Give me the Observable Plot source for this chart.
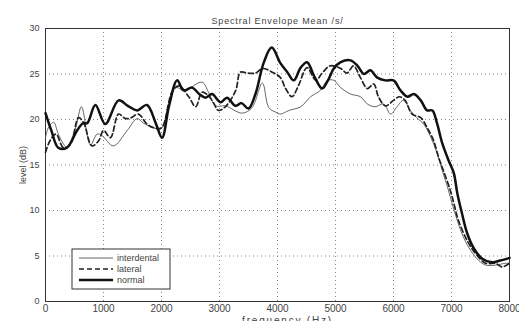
<!DOCTYPE html>
<html>
<head>
<meta charset="utf-8">
<script src="https://cdn.jsdelivr.net/npm/d3@7"></script>
<script src="https://cdn.jsdelivr.net/npm/@observablehq/plot@0.6"></script>
<style>
  html, body { margin: 0; padding: 0; background: #fff; }
  #chart { position: relative; width: 519px; height: 321px; }
  svg { font-family: "Liberation Sans", Arial, sans-serif; }
</style>
</head>
<body>
<div id="chart"></div>
<script>
const title = "Spectral Envelope Mean /s/";
const xLabel = "frequency (Hz)";
const yLabel = "level (dB)";
const seriesNames = ["interdental", "lateral", "normal"];
const xTicks = [0, 1000, 2000, 3000, 4000, 5000, 6000, 7000, 8000];
const yTicks = [0, 5, 10, 15, 20, 25, 30];

const interdentalFreq = [0, 50, 140, 220, 310, 370, 520, 620, 775, 890, 980, 1170, 1410, 1580, 1690, 1860, 2000, 2110, 2240, 2400, 2700, 2810, 2930, 3100, 3390, 3560, 3740, 3850, 3970, 4050, 4200, 4400, 4570, 4740, 4860, 4970, 5090, 5260, 5430, 5550, 5680, 5830, 5950, 6060, 6170, 6290, 6400, 6520, 6640, 6750, 6840, 6930, 7010, 7100, 7210, 7330, 7470, 7590, 7760, 7930, 8000];
const interdentalLevel = [18.0, 19.1, 19.7, 18.4, 17.3, 16.9, 19.1, 21.4, 17.2, 18.4, 18.2, 17.1, 18.8, 20.1, 19.6, 19.1, 19.0, 21.3, 23.5, 23.2, 24.1, 23.0, 21.5, 21.5, 20.7, 21.3, 24.0, 21.3, 20.8, 20.6, 21.0, 21.4, 22.5, 23.2, 24.3, 24.3, 23.5, 22.8, 22.5, 21.7, 21.4, 21.7, 20.6, 21.4, 22.1, 21.0, 20.2, 19.5, 18.1, 16.3, 14.4, 12.6, 10.8, 8.9, 7.0, 5.6, 4.5, 4.0, 4.0, 4.2, 4.2];

const lateralFreq = [0, 80, 180, 310, 430, 570, 660, 800, 920, 1000, 1120, 1260, 1380, 1480, 1600, 1750, 1860, 2000, 2180, 2300, 2470, 2590, 2700, 2810, 2900, 2980, 3100, 3280, 3360, 3480, 3620, 3740, 3910, 4050, 4140, 4250, 4360, 4510, 4660, 4770, 4910, 5090, 5200, 5310, 5430, 5550, 5660, 5740, 5860, 6000, 6100, 6200, 6320, 6470, 6580, 6690, 6780, 6860, 6980, 7040, 7120, 7270, 7410, 7590, 7760, 7870, 8000];
const lateralLevel = [16.4, 17.7, 18.4, 16.9, 17.3, 20.2, 19.6, 17.1, 17.7, 18.8, 18.0, 20.6, 20.1, 20.2, 20.6, 19.5, 19.1, 19.1, 23.0, 23.7, 22.5, 21.4, 23.0, 22.6, 21.8, 21.0, 21.4, 23.2, 25.2, 25.1, 25.1, 25.6, 25.2, 24.6, 23.4, 22.5, 23.7, 25.7, 24.3, 25.1, 25.9, 25.6, 25.1, 25.9, 24.6, 23.4, 23.9, 22.5, 21.5, 22.1, 22.5, 22.1, 20.6, 20.2, 19.1, 17.7, 15.8, 14.4, 12.2, 10.8, 8.9, 6.7, 5.3, 4.2, 4.2, 3.8, 4.2];

const normalFreq = [0, 100, 220, 370, 545, 650, 720, 860, 1030, 1260, 1420, 1580, 1750, 1900, 2010, 2130, 2270, 2380, 2530, 2650, 2760, 2870, 3020, 3130, 3275, 3380, 3500, 3620, 3760, 3900, 4050, 4170, 4280, 4400, 4510, 4630, 4770, 4870, 4970, 5090, 5260, 5380, 5490, 5600, 5720, 5860, 6000, 6120, 6240, 6350, 6470, 6580, 6670, 6750, 6840, 6950, 7040, 7100, 7180, 7270, 7380, 7530, 7700, 7840, 8000];
const normalLevel = [20.7, 18.8, 16.9, 16.9, 18.8, 19.6, 19.6, 21.6, 19.5, 22.1, 21.5, 21.0, 21.6, 19.6, 18.0, 21.5, 24.3, 23.2, 23.5, 22.8, 22.4, 22.8, 21.9, 22.4, 21.5, 21.8, 21.2, 22.8, 26.2, 27.9, 26.2, 25.2, 24.3, 25.7, 26.3, 24.8, 23.4, 24.3, 25.6, 26.3, 26.5, 25.9, 25.0, 25.4, 24.6, 24.3, 24.3, 23.2, 22.5, 22.8, 22.1, 21.0, 21.0, 19.6, 17.4, 15.5, 14.1, 11.9, 9.7, 7.5, 5.9, 4.7, 4.3, 4.5, 4.8];

const toRows = (name, fs, ls) => fs.map((f, i) => ({series: name, freq: f, level: ls[i]}));
const interdental = toRows(seriesNames[0], interdentalFreq, interdentalLevel);
const lateral = toRows(seriesNames[1], lateralFreq, lateralLevel);
const normal = toRows(seriesNames[2], normalFreq, normalLevel);

const styles = [
  {stroke: "#555", strokeWidth: 0.9, dash: null},
  {stroke: "#222", strokeWidth: 1.7, dash: "5,3"},
  {stroke: "#111", strokeWidth: 2.5, dash: null}
];

const chart = Plot.plot({
  width: 519,
  height: 321,
  marginLeft: 45,
  marginRight: 10,
  marginTop: 28,
  marginBottom: 20,
  style: {fontFamily: "Liberation Sans, Arial, sans-serif", fontSize: "10px", color: "#444"},
  x: {domain: [0, 8000]},
  y: {domain: [0, 30]},
  marks: [
    Plot.gridX(xTicks, {stroke: "#777", strokeOpacity: 0.9, strokeDasharray: "1,3"}),
    Plot.gridY(yTicks, {stroke: "#777", strokeOpacity: 0.9, strokeDasharray: "1,3"}),
    Plot.frame({stroke: "#333", strokeWidth: 1}),
    Plot.axisX({ticks: xTicks, tickFormat: d3.format("d"), tickSize: 0, tickPadding: 3, label: null, fontSize: 10}),
    Plot.axisY({ticks: yTicks, tickSize: 0, tickPadding: 6,
      label: yLabel, labelAnchor: "center", labelArrow: "none", labelOffset: 26, fontSize: 9}),
    Plot.line(interdental, {x: "freq", y: "level", curve: "catmull-rom", stroke: styles[0].stroke, strokeWidth: styles[0].strokeWidth}),
    Plot.line(lateral, {x: "freq", y: "level", curve: "catmull-rom", stroke: styles[1].stroke, strokeWidth: styles[1].strokeWidth, strokeDasharray: styles[1].dash}),
    Plot.line(normal, {x: "freq", y: "level", curve: "catmull-rom", stroke: styles[2].stroke, strokeWidth: styles[2].strokeWidth}),
    Plot.text([title], {frameAnchor: "top", dy: -11, fontSize: 9, fill: "#444", style: "letter-spacing:0.85px"}),
    Plot.text([xLabel], {frameAnchor: "bottom", dx: 10, dy: 19, fontSize: 10, fill: "#444", lineAnchor: "middle"})
  ]
});

const svg = d3.select(chart);
// widen the x label's letter spacing like the reference
svg.selectAll("text").filter(function() { return this.textContent === xLabel; })
  .style("letter-spacing", "1.8px");
svg.selectAll("text").filter(function() { return this.textContent === title; })
  .style("letter-spacing", "0.85px");

// Legend
const lg = svg.append("g").attr("transform", "translate(72,249)").attr("text-anchor", "start");
lg.append("rect").attr("width", 98).attr("height", 40).attr("fill", "#fff").attr("stroke", "#333").attr("stroke-width", 1);
seriesNames.forEach((name, i) => {
  const y = 9 + i * 11;
  const s = styles[i];
  lg.append("line").attr("x1", 7).attr("x2", 41).attr("y1", y).attr("y2", y)
    .attr("stroke", s.stroke).attr("stroke-width", s.strokeWidth)
    .attr("stroke-dasharray", s.dash);
  lg.append("text").attr("x", 45).attr("y", y).attr("dy", "0.32em")
    .attr("text-anchor", "start")
    .attr("font-size", 9).attr("fill", "#444").text(name);
});

document.getElementById("chart").appendChild(chart);
</script>
</body>
</html>
